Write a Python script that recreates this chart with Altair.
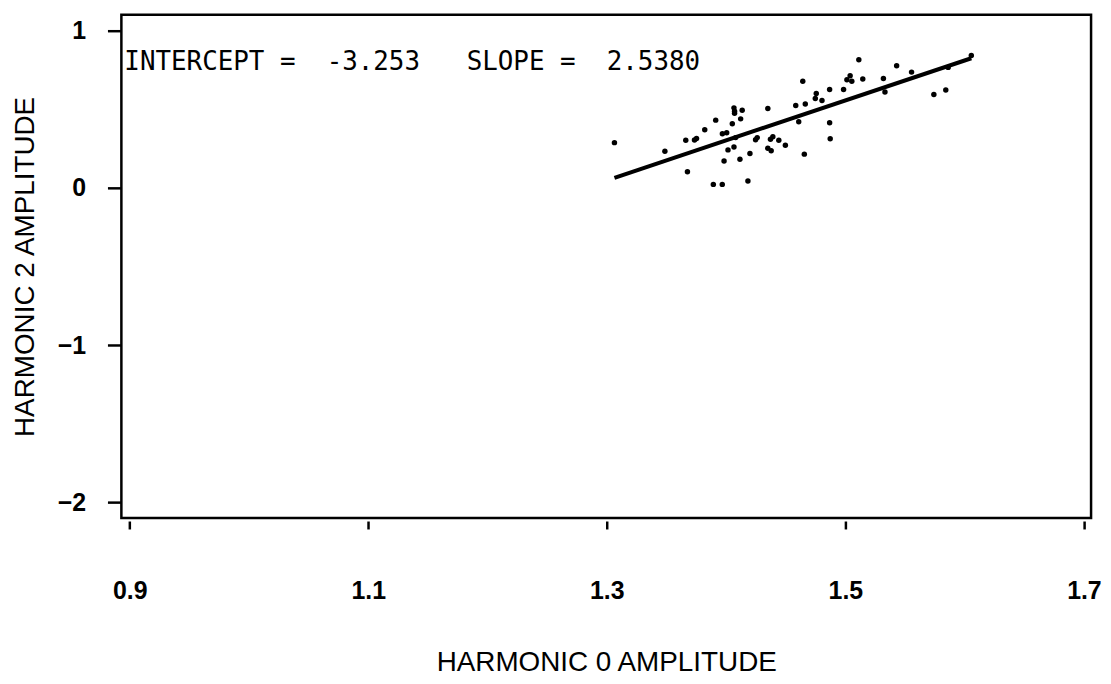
import altair as alt
import pandas as pd

# Scatter data
h0 = [1.3064, 1.3487, 1.3662, 1.3735, 1.3752, 1.3821, 1.3913, 1.3676, 1.3893, 1.3968,
      1.4183, 1.3983, 1.4016, 1.4066, 1.4116, 1.4200, 1.3969, 1.4005, 1.4052, 1.4122,
      1.4066, 1.4071, 1.4071, 1.4135, 1.4080, 1.4247, 1.4261, 1.4350, 1.4372, 1.4392,
      1.4442, 1.4497, 1.4350, 1.4378, 1.4584, 1.4609, 1.4664, 1.4643, 1.4656, 1.4748,
      1.4756, 1.4804, 1.4868, 1.4868, 1.4873, 1.4985, 1.5013, 1.5040, 1.5054, 1.5113,
      1.5146, 1.5319, 1.5332, 1.5430, 1.5555, 1.5742, 1.5842, 1.5862, 1.6056]
h2 = [0.286, 0.232, 0.301, 0.303, 0.312, 0.368, 0.429, 0.101, 0.021, 0.021,
      0.042, 0.170, 0.240, 0.259, 0.181, 0.217, 0.343, 0.349, 0.406, 0.437,
      0.507, 0.486, 0.472, 0.492, 0.318, 0.305, 0.318, 0.503, 0.307, 0.324,
      0.301, 0.270, 0.251, 0.234, 0.522, 0.419, 0.532, 0.676, 0.213, 0.566,
      0.598, 0.554, 0.623, 0.412, 0.311, 0.623, 0.686, 0.711, 0.676, 0.813,
      0.690, 0.693, 0.608, 0.775, 0.734, 0.592, 0.621, 0.764, 0.840]

intercept = -3.253
slope = 2.5380

x_ticks = [0.9, 1.1, 1.3, 1.5, 1.7]
y_ticks = [-2, -1, 0, 1]

pts = pd.DataFrame({"x": h0, "y": h2})
xmin, xmax = min(h0), max(h0)
fit = pd.DataFrame({"x": [xmin, xmax],
                    "y": [intercept + slope * xmin, intercept + slope * xmax]})
sp = "\u00a0"
label_text = ("INTERCEPT" + sp + "=" + sp * 2 + "%.3f" % intercept + sp * 3 +
              "SLOPE" + sp + "=" + sp * 2 + "%.4f" % slope)
ann = pd.DataFrame({"x": [0.8955], "y": [0.80], "t": [label_text]})

xscale = alt.Scale(domain=[0.893, 1.706], nice=False, zero=False)
yscale = alt.Scale(domain=[-2.098, 1.098], nice=False, zero=False)

xaxis = alt.Axis(values=x_ticks, format=".1f", title="HARMONIC 0 AMPLITUDE",
                 grid=False, domain=False, tickColor="black", tickWidth=2.5,
                 tickSize=8, offset=3, labelFont="Liberation Sans",
                 labelFontSize=25, labelFontWeight="bold", labelColor="black",
                 labelPadding=50, titleFont="Liberation Sans", titleFontSize=28,
                 titleFontWeight="normal", titleColor="black", titlePadding=45)
yaxis = alt.Axis(values=y_ticks, format="d", title="HARMONIC 2 AMPLITUDE",
                 grid=False, domain=False, tickColor="black", tickWidth=2.5,
                 tickSize=14, labelFont="Liberation Sans", labelFontSize=25,
                 labelFontWeight="bold", labelColor="black", labelPadding=22,
                 titleFont="Liberation Sans", titleFontSize=28,
                 titleFontWeight="normal", titleColor="black", titlePadding=18)

points = alt.Chart(pts).mark_circle(size=30, color="black", opacity=1).encode(
    x=alt.X("x:Q", scale=xscale, axis=xaxis),
    y=alt.Y("y:Q", scale=yscale, axis=yaxis),
)
line = alt.Chart(fit).mark_line(color="black", strokeWidth=4).encode(
    x=alt.X("x:Q", scale=xscale),
    y=alt.Y("y:Q", scale=yscale),
)
text = alt.Chart(ann).mark_text(align="left", baseline="middle",
                                font="DejaVu Sans Mono", fontSize=26,
                                color="black").encode(
    x=alt.X("x:Q", scale=xscale),
    y=alt.Y("y:Q", scale=yscale),
    text="t:N",
)

chart = alt.layer(points, line, text).properties(
    width=975, height=506,
    autosize=alt.AutoSizeParams(type="none"),
    padding={"left": 114, "top": 5, "right": 12, "bottom": 157},
    background="white",
).configure_view(stroke="black", strokeWidth=2.5)

chart.save("out.html", embed_options={"renderer": "svg", "actions": False})
